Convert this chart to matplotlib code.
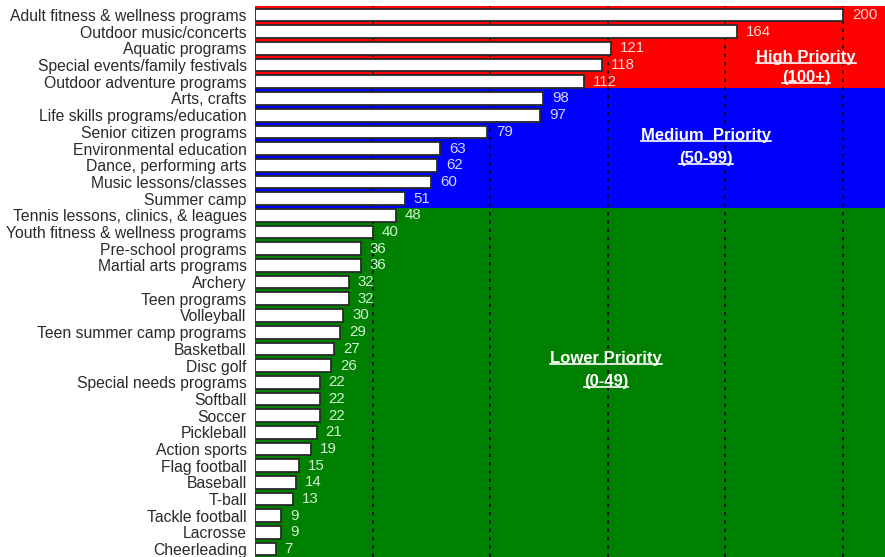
import matplotlib
matplotlib.use("Agg")
import matplotlib.pyplot as plt
from matplotlib.lines import Line2D

categories = ["Adult fitness & wellness programs", "Outdoor music/concerts", "Aquatic programs",
              "Special events/family festivals", "Outdoor adventure programs", "Arts, crafts",
              "Life skills programs/education", "Senior citizen programs", "Environmental education",
              "Dance, performing arts", "Music lessons/classes", "Summer camp",
              "Tennis lessons, clinics, & leagues", "Youth fitness & wellness programs",
              "Pre-school programs", "Martial arts programs", "Archery", "Teen programs",
              "Volleyball", "Teen summer camp programs", "Basketball", "Disc golf",
              "Special needs programs", "Softball", "Soccer", "Pickleball", "Action sports",
              "Flag football", "Baseball", "T-ball", "Tackle football", "Lacrosse", "Cheerleading"]
values = [200, 164, 121, 118, 112, 98, 97, 79, 63, 62, 60, 51, 48, 40, 36, 36, 32, 32, 30, 29,
          27, 26, 22, 22, 22, 21, 19, 15, 14, 13, 9, 9, 7]
band_labels = [("High Priority", "(100+)"), ("Medium  Priority", "(50-99)"), ("Lower Priority", "(0-49)")]
band_colors = ["#ff0000", "#0000ff", "#008000"]
label_colors = ["#ffd8d8", "#d8d8ff", "#d0f5d0"]
grid_vals = [40, 80, 120, 160, 200]

plt.rcParams['font.family'] = ['Liberation Sans', 'DejaVu Sans']
fig = plt.figure(figsize=(8.85, 5.57), dpi=100)
ax = fig.add_axes([255/885, 0, 1 - 255/885, 1 - 6/557])

n = len(categories)
ypos = list(range(n))
ax.set_xlim(0, 214.3)
ax.set_ylim(32.47, -0.54)

# background bands
bounds = [(-0.54, 4.4), (4.4, 11.55), (11.55, 32.47)]
for (y0, y1), c in zip(bounds, band_colors):
    ax.axhspan(y0, y1, color=c, zorder=0, lw=0)

for g in grid_vals:
    ax.axvline(g, color="black", ls=(0, (2, 3)), lw=1.2, zorder=1)

ax.barh(ypos, values, height=0.76, color="white", edgecolor="#2a2a2a", lw=1.3, zorder=2)

for i, v in enumerate(values):
    band = 0 if v >= 100 else (1 if v >= 50 else 2)
    ax.text(v + 3, i, str(v), color=label_colors[band], fontsize=10.8, va="center", ha="left", zorder=3)

ax.set_yticks(ypos)
ax.set_yticklabels(categories, fontsize=11.3, color="#2a2a2a")
ax.tick_params(axis="y", length=0, pad=6)
ax.tick_params(axis="x", length=0, labelbottom=False)
for s in ax.spines.values():
    s.set_visible(False)

# band annotations (underlined)
ann = [(187.5, 2.55, 3.75), (153.5, 7.2, 8.6), (119.5, 20.6, 21.95)]
texts = []
for (x, y1, y2), (t1, t2) in zip(ann, band_labels):
    a = ax.text(x, y1, t1, color="white", fontsize=12, fontweight="bold", ha="center", va="center", zorder=4)
    b = ax.text(x, y2, t2, color="white", fontsize=12, fontweight="bold", ha="center", va="center", zorder=4)
    texts += [a, b]

fig.canvas.draw()
r = fig.canvas.get_renderer()
inv = fig.transFigure.inverted()
for t in texts:
    bb = t.get_window_extent(r)
    (x0, y0) = inv.transform((bb.x0, bb.y0 + 2))
    (x1, _) = inv.transform((bb.x1, bb.y0 + 2))
    fig.add_artist(Line2D([x0, x1], [y0, y0], color="white", lw=1.2, transform=fig.transFigure, zorder=5))

fig.savefig("out.png", dpi=100)
